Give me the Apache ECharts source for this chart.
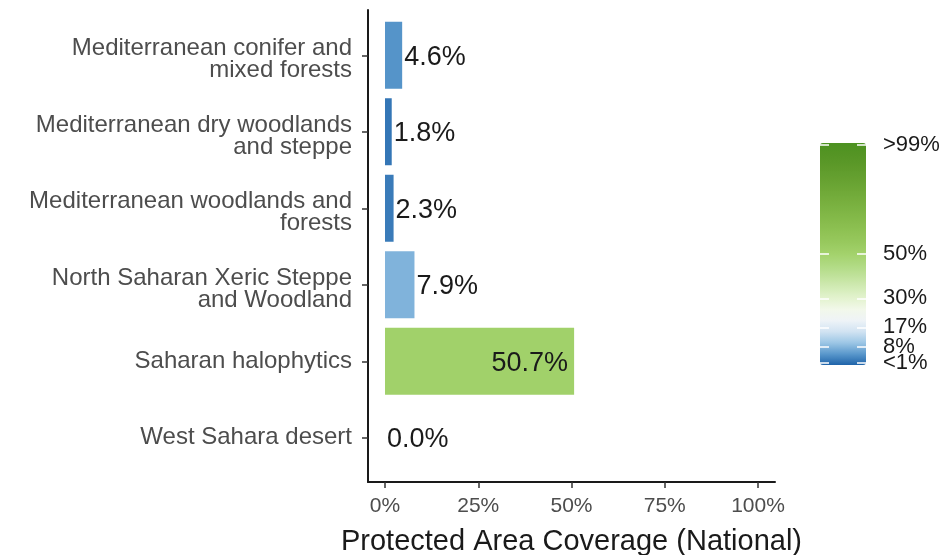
<!DOCTYPE html>
<html>
<head>
<meta charset="utf-8">
<script src="https://cdn.jsdelivr.net/npm/echarts@6/dist/echarts.min.js"></script>
<style>
  html, body { margin: 0; padding: 0; background: #fff; }
  #chart { width: 948px; height: 555px; }
</style>
</head>
<body>
<div id="chart"></div>
<script>
  // ecoregions, top to bottom
  var regions = [
    'Mediterranean conifer and\nmixed forests',
    'Mediterranean dry woodlands\nand steppe',
    'Mediterranean woodlands and\nforests',
    'North Saharan Xeric Steppe\nand Woodland',
    'Saharan halophytics',
    'West Sahara desert'
  ];
  var coverage = [4.6, 1.8, 2.3, 7.9, 50.7, 0.0];

  var xTicks = [0, 25, 50, 75, 100];
  var legendTicks = [1, 8, 17, 30, 50, 99];
  var legendLabels = ['<1%', '8%', '17%', '30%', '50%', '>99%'];
  // colour ramp, 0..100 in steps of 5
  var ramp = ['#1f63a9', '#5a98cc', '#9cc6e5', '#d1e3f2', '#eef3f7', '#f2f8ea', '#e3f3cf',
    '#d2ebb5', '#c0e29b', '#b0da82', '#a3d26c', '#98c95e', '#8fc254', '#86bb4b',
    '#7db443', '#75ad3c', '#6ca635', '#649f2f', '#5c9929', '#549424', '#4d9221'];

  var font = 'Liberation Sans, Arial, sans-serif';
  var chart = echarts.init(document.getElementById('chart'));

  var barData = coverage.map(function (v) {
    var big = v > 30;
    return {
      value: v,
      label: {
        show: true,
        position: big ? 'insideRight' : 'right',
        distance: big ? 6 : 2,
        offset: [0, 2],
        formatter: v.toFixed(1) + '%',
        fontSize: 27,
        color: '#1a1a1a',
        fontFamily: font
      }
    };
  });

  function legendLabel(v) {
    return legendLabels[legendTicks.indexOf(v)];
  }

  // two-line names sit a little lower than their tick, as in ggplot
  function regionLabel(v) {
    var lines = v.split('\n');
    var body = lines.map(function (l) { return '{t|' + l + '}'; }).join('\n');
    return lines.length > 1 ? '{s| }\n' + body : body;
  }

  // colour bar axis (labels + white ticks)
  function legendAxis(values, position, showLabel) {
    return {
      gridIndex: 2, type: 'value', min: 0, max: 100, position: position, z: 10,
      splitLine: { show: false },
      axisLine: { show: false, onZero: false },
      axisTick: { show: true, inside: true, length: 9, customValues: values, lineStyle: { color: '#fff', width: 1.5 } },
      axisLabel: {
        show: showLabel, customValues: values, hideOverlap: false,
        formatter: legendLabel,
        fontSize: 22, color: '#1a1a1a', fontFamily: font, margin: 17
      }
    };
  }

  var option = {
    backgroundColor: '#fff',
    animation: false,
    grid: [
      { left: 368, top: 10, width: 407, height: 472, outerBoundsMode: 'none' },
      { left: 368, top: 17, width: 407, height: 459, outerBoundsMode: 'none' },
      { left: 820, top: 143, width: 46, height: 222, outerBoundsMode: 'none' }
    ],
    xAxis: [
      {
        gridIndex: 0, type: 'value', min: -4.56, max: 104.56,
        splitLine: { show: false },
        axisLine: { show: true, onZero: false, lineStyle: { color: '#1a1a1a', width: 2 } },
        axisTick: { show: true, length: 6, customValues: xTicks, lineStyle: { color: '#333', width: 1.5 } },
        axisLabel: {
          customValues: xTicks, formatter: function (v) { return v + '%'; },
          fontSize: 21, color: '#4d4d4d', fontFamily: font, margin: 14
        },
        name: 'Protected Area Coverage (National)',
        nameLocation: 'middle', nameGap: 45,
        nameTextStyle: { fontSize: 29, color: '#1a1a1a', fontFamily: font }
      },
      {
        gridIndex: 1, type: 'value', min: -4.56, max: 104.56, show: false
      },
      {
        gridIndex: 2, type: 'value', min: 0, max: 1, show: false
      }
    ],
    yAxis: [
      {
        gridIndex: 0, type: 'value', min: 0, max: 1,
        splitLine: { show: false },
        axisLine: { show: true, onZero: false, lineStyle: { color: '#1a1a1a', width: 2 } },
        axisTick: { show: false }, axisLabel: { show: false }
      },
      {
        gridIndex: 1, type: 'category', inverse: true, data: regions,
        axisLine: { show: false, onZero: false },
        axisTick: { show: true, length: 6, alignWithLabel: true, lineStyle: { color: '#333', width: 1.5 } },
        axisLabel: {
          formatter: regionLabel,
          color: '#4d4d4d', fontFamily: font, margin: 16, align: 'right',
          rich: {
            t: { fontSize: 24, lineHeight: 22, color: '#4d4d4d', fontFamily: font, align: 'right' },
            s: { fontSize: 8, lineHeight: 9 }
          }
        }
      },
      legendAxis([1, 17, 50], 'right', true),
      legendAxis([8, 30, 99], 'right', true),
      legendAxis(legendTicks, 'left', false)
    ],
    visualMap: {
      type: 'continuous',
      seriesIndex: 0,
      dimension: 0,
      min: 0, max: 100,
      left: 820, top: 143,
      itemWidth: 46, itemHeight: 222,
      padding: 0,
      calculable: false,
      hoverLink: false,
      inRange: { color: ramp }
    },
    series: [{
      type: 'bar',
      xAxisIndex: 1, yAxisIndex: 1,
      barWidth: 67,
      data: barData
    }]
  };

  chart.setOption(option);
</script>
</body>
</html>
